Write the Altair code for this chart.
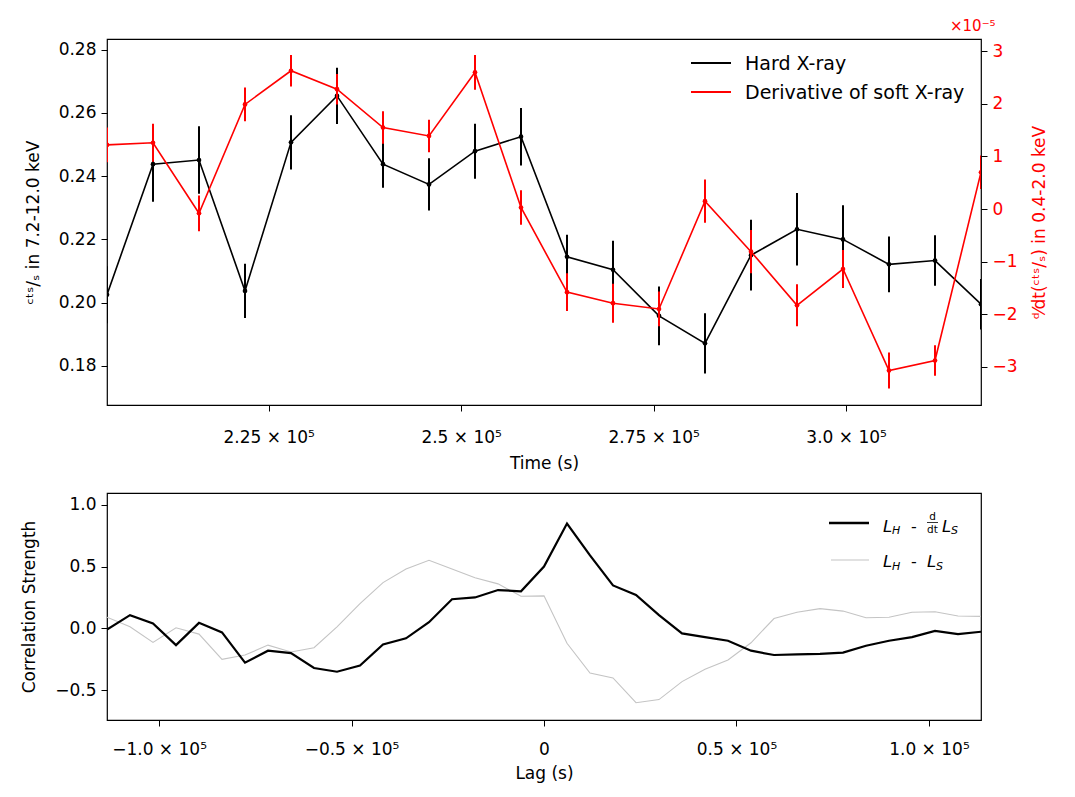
import altair as alt
import pandas as pd

FONT = "DejaVu Sans"

# ---------------- top panel data ----------------
times = [204000, 209975, 215950, 221925, 227900, 233875, 239850, 245825, 251800, 257775,
         263750, 269725, 275700, 281675, 287650, 293625, 299600, 305575, 311550, 317525]
hard_rate = [0.2025, 0.2438, 0.2451, 0.2037, 0.2507, 0.2654, 0.2438, 0.2374, 0.2479, 0.2525,
             0.2145, 0.2104, 0.1958, 0.1871, 0.2150, 0.2232, 0.2200, 0.2121, 0.2133, 0.1995]
hard_err = [0.0090, 0.0119, 0.0107, 0.0086, 0.0086, 0.0089, 0.0075, 0.0083, 0.0087, 0.0091,
            0.0070, 0.0092, 0.0093, 0.0095, 0.0112, 0.0115, 0.0108, 0.0088, 0.0080, 0.0080]
# derivative of soft X-ray, in units of 1e-5
soft_deriv = [1.22, 1.26, -0.08, 1.99, 2.63, 2.28, 1.55, 1.39, 2.60, 0.03,
              -1.58, -1.79, -1.90, 0.15, -0.81, -1.83, -1.14, -3.07, -2.88, 0.70]
soft_deriv_err = [0.33, 0.36, 0.34, 0.32, 0.30, 0.29, 0.31, 0.31, 0.33, 0.33,
                  0.36, 0.37, 0.33, 0.41, 0.41, 0.40, 0.36, 0.34, 0.29, 0.32]

# ---------------- bottom panel data ----------------
lags = [-113525, -107550, -101575, -95600, -89625, -83650, -77675, -71700, -65725, -59750,
        -53775, -47800, -41825, -35850, -29875, -23900, -17925, -11950, -5975, 0,
        5975, 11950, 17925, 23900, 29875, 35850, 41825, 47800, 53775, 59750,
        65725, 71700, 77675, 83650, 89625, 95600, 101575, 107550, 113525]
ccf_hard_dsoft = [-0.01, 0.107, 0.04, -0.135, 0.045, -0.032, -0.277, -0.18, -0.20, -0.32,
                  -0.35, -0.30, -0.13, -0.08, 0.05, 0.236, 0.25, 0.31, 0.30, 0.50,
                  0.847, 0.59, 0.347, 0.27, 0.107, -0.04, -0.07, -0.10, -0.18, -0.215,
                  -0.21, -0.205, -0.195, -0.14, -0.10, -0.07, -0.02, -0.046, -0.027]
ccf_hard_soft = [0.09, 0.013, -0.113, 0.005, -0.046, -0.25, -0.215, -0.135, -0.19, -0.156,
                 0.013, 0.20, 0.37, 0.48, 0.55, 0.48, 0.41, 0.36, 0.26, 0.263,
                 -0.12, -0.36, -0.40, -0.60, -0.575, -0.43, -0.33, -0.255, -0.116, 0.08,
                 0.13, 0.16, 0.14, 0.086, 0.09, 0.13, 0.134, 0.10, 0.097]

time_ticks = [225000, 250000, 275000, 300000]
time_tick_labels = ["2.25 × 10⁵", "2.5 × 10⁵", "2.75 × 10⁵", "3.0 × 10⁵"]
lag_ticks = [-100000, -50000, 0, 50000, 100000]
lag_tick_labels = ["−1.0 × 10⁵", "−0.5 × 10⁵", "0", "0.5 × 10⁵", "1.0 × 10⁵"]


def label_expr(vals, labs):
    parts = [f"datum.value == {v} ? '{l}'" for v, l in zip(vals, labs)]
    return " : ".join(parts) + " : ''"


W = 874
H1 = 366
H2 = 227

top_df = pd.DataFrame({
    "t": times,
    "hard": hard_rate,
    "hard_lo": [v - e for v, e in zip(hard_rate, hard_err)],
    "hard_hi": [v + e for v, e in zip(hard_rate, hard_err)],
    "d": soft_deriv,
    "d_lo": [v - e for v, e in zip(soft_deriv, soft_deriv_err)],
    "d_hi": [v + e for v, e in zip(soft_deriv, soft_deriv_err)],
})

one = alt.Data(values=[{"k": 0}])


def txt(text, x, y, size=17, color="black", style="normal", align="left", baseline="alphabetic"):
    return alt.Chart(one).mark_text(
        text=text, font=FONT, fontSize=size, fontStyle=style, color=color,
        align=align, baseline=baseline
    ).encode(x=alt.value(x), y=alt.value(y))


def swatch(x1, x2, y, color, width):
    return alt.Chart(one).mark_rule(color=color, strokeWidth=width).encode(
        x=alt.value(x1), x2=alt.value(x2), y=alt.value(y))


tscale = alt.Scale(domain=[times[0], times[-1]], nice=False, zero=False)
xaxis_top = alt.Axis(values=time_ticks, labelExpr=label_expr(time_ticks, time_tick_labels),
                     title="Time (s)", labelPadding=18, titlePadding=10)
X_top = alt.X("t:Q", scale=tscale, axis=xaxis_top)

yl_scale = alt.Scale(domain=[0.1676, 0.2834], nice=False, zero=False)
yr_scale = alt.Scale(domain=[-3.726, 3.234], nice=False, zero=False)

base = alt.Chart(top_df)

hard_line = base.mark_line(color="black", strokeWidth=1.6, clip=True).encode(
    x=X_top,
    y=alt.Y("hard:Q", scale=yl_scale,
            axis=alt.Axis(orient="left", values=[0.18, 0.20, 0.22, 0.24, 0.26, 0.28], format=".2f",
                          title="ᶜᵗˢ/ₛ in 7.2-12.0 keV")))
hard_bars = base.mark_rule(color="black", strokeWidth=2, clip=True).encode(
    x=X_top, y=alt.Y("hard_lo:Q", scale=yl_scale), y2="hard_hi:Q")
hard_pts = base.mark_circle(color="black", size=22, opacity=1, clip=True).encode(
    x=X_top, y=alt.Y("hard:Q", scale=yl_scale))
hard_layer = alt.layer(hard_line, hard_bars, hard_pts)

red = "#ff0000"
d_line = base.mark_line(color=red, strokeWidth=1.6, clip=True).encode(
    x=X_top,
    y=alt.Y("d:Q", scale=yr_scale,
            axis=alt.Axis(orient="right", values=[-3, -2, -1, 0, 1, 2, 3], format="d",
                          labelColor=red, titleColor=red, tickColor="black",
                          titleAngle=270, titleBaseline="top", titlePadding=14,
                          title="ᵈ⁄dt(ᶜᵗˢ/ₛ) in 0.4-2.0 keV")))
d_bars = base.mark_rule(color=red, strokeWidth=2, clip=True).encode(
    x=X_top, y=alt.Y("d_lo:Q", scale=yr_scale), y2="d_hi:Q")
d_pts = base.mark_circle(color=red, size=22, opacity=1, clip=True).encode(
    x=X_top, y=alt.Y("d:Q", scale=yr_scale))
d_layer = alt.layer(d_line, d_bars, d_pts)

top = alt.layer(
    hard_layer, d_layer,
    swatch(584, 624, 24, "black", 2),
    txt("Hard X-ray", 638, 25, size=19, baseline="middle"),
    swatch(584, 624, 53, red, 2),
    txt("Derivative of soft X-ray", 638, 54, size=19, baseline="middle"),
    txt("×10⁻⁵", 843, -8, size=15, color=red),
).resolve_scale(y="independent").properties(width=W, height=H1)

# ---------------- bottom panel ----------------
bot_df = pd.DataFrame({"lag": lags, "cd": ccf_hard_dsoft, "cs": ccf_hard_soft})
lscale = alt.Scale(domain=[lags[0], lags[-1]], nice=False, zero=False)
X_bot = alt.X("lag:Q", scale=lscale,
              axis=alt.Axis(values=lag_ticks, labelExpr=label_expr(lag_ticks, lag_tick_labels),
                            title="Lag (s)", labelPadding=15, titlePadding=8))
cscale = alt.Scale(domain=[-0.74, 1.094], nice=False, zero=False)
Y_bot_axis = alt.Axis(values=[-0.5, 0.0, 0.5, 1.0], format=".1f", title="Correlation Strength")

bbase = alt.Chart(bot_df)
soft_line = bbase.mark_line(color="#c4c4c4", strokeWidth=1.1, clip=True).encode(
    x=X_bot, y=alt.Y("cs:Q", scale=cscale, axis=Y_bot_axis))
dsoft_line = bbase.mark_line(color="black", strokeWidth=2.2, clip=True).encode(
    x=X_bot, y=alt.Y("cd:Q", scale=cscale, axis=Y_bot_axis))

bottom = alt.layer(
    soft_line, dsoft_line,
    swatch(722, 762, 30, "black", 2.4),
    txt("L", 776, 38.5, size=16.5, style="italic"),
    txt("H", 785, 41, size=11, style="italic"),
    txt("-", 804, 38.5, size=16),
    txt("d", 825.5, 27, size=10.5, align="center"),
    swatch(820, 831, 29.5, "black", 0.8),
    txt("dt", 825.5, 40, size=10.5, align="center"),
    txt("L", 835, 38.5, size=16.5, style="italic"),
    txt("S", 844, 41, size=11, style="italic"),
    swatch(724, 762, 67, "#c4c4c4", 1.1),
    txt("L", 776, 74, size=16.5, style="italic"),
    txt("H", 785, 76.5, size=11, style="italic"),
    txt("-", 804, 74, size=16),
    txt("L", 820, 74, size=16.5, style="italic"),
    txt("S", 829, 76.5, size=11, style="italic"),
).properties(width=W, height=H2)

chart = alt.vconcat(top, bottom, spacing=20).properties(
    padding={"left": 12, "top": 10, "right": 5, "bottom": 5}
).configure(
    font=FONT,
    background="white",
).configure_view(
    stroke="black", strokeWidth=1.2
).configure_axis(
    grid=False, domain=False, tickColor="black", tickSize=6, tickWidth=1,
    labelFont=FONT, labelFontSize=17, labelColor="black", labelPadding=5,
    titleFont=FONT, titleFontSize=17, titleFontWeight="normal", titleColor="black",
    titlePadding=16, labelFlush=False, labelOverlap=False
)

chart.save("out.html", embed_options={"renderer": "svg", "actions": False})
